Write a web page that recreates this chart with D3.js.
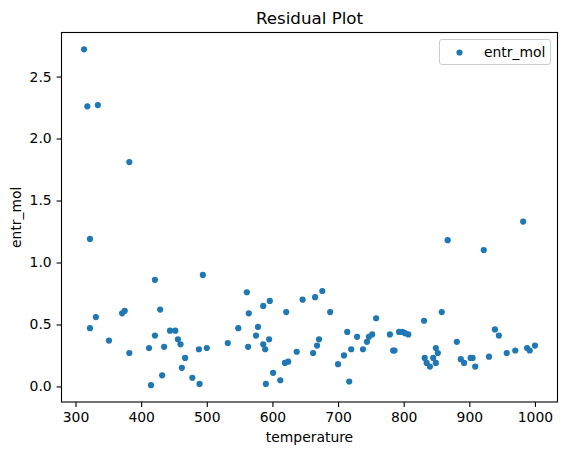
<!DOCTYPE html>
<html>
<head>
<meta charset="utf-8">
<script src="https://d3js.org/d3.v7.min.js"></script>
<style>
  body { margin: 0; background: #fff; }
  text { font-family: "DejaVu Sans", sans-serif; fill: #000; }
</style>
</head>
<body>
<script>
// residuals
var temperature = [
  313, 318, 334, 382,
  322, 421, 494, 561, 596, 646, 586, 621, 564, 375, 371, 429, 331, 322, 351, 382,
  412, 421, 435, 444, 452, 456, 460, 467, 462, 432, 415, 478, 489, 488, 500, 532,
  548, 563, 575, 578, 595, 586, 589, 590, 601, 612, 619, 624, 637,
  982, 867, 922, 665, 676, 688, 758, 858, 831, 714, 729, 744, 747, 752, 779, 793,
  798, 802, 807, 671, 668, 662, 709, 720, 738, 700, 717, 784, 786, 832, 835, 840,
  845, 849, 852, 849, 881, 887, 892, 902, 905, 909, 930, 939, 945, 957, 970, 988,
  992, 1000
];
var entr_mol = [
  2.72, 2.26, 2.27, 1.81,
  1.19, 0.86, 0.90, 0.76, 0.69, 0.70, 0.65, 0.60, 0.59, 0.61, 0.59, 0.62, 0.56, 0.47, 0.37, 0.27,
  0.31, 0.41, 0.32, 0.45, 0.45, 0.38, 0.34, 0.23, 0.15, 0.09, 0.01, 0.07, 0.02, 0.30, 0.31, 0.35,
  0.47, 0.32, 0.41, 0.48, 0.38, 0.34, 0.30, 0.02, 0.11, 0.05, 0.19, 0.20, 0.28,
  1.33, 1.18, 1.10, 0.72, 0.77, 0.60, 0.55, 0.60, 0.53, 0.44, 0.40, 0.36, 0.40, 0.42, 0.42, 0.44,
  0.44, 0.43, 0.42, 0.38, 0.33, 0.27, 0.25, 0.30, 0.30, 0.18, 0.04, 0.29, 0.29, 0.23, 0.19, 0.16,
  0.23, 0.31, 0.27, 0.19, 0.36, 0.22, 0.19, 0.23, 0.23, 0.16, 0.24, 0.46, 0.41, 0.27, 0.29, 0.31,
  0.29, 0.33
];
var xTicks = [300, 400, 500, 600, 700, 800, 900, 1000];
var yTicks = [0.0, 0.5, 1.0, 1.5, 2.0, 2.5];

var W = 567, H = 455;
var mLeft = 61.5, mRight = 557.5, mTop = 32.5, mBottom = 402;

var data = temperature.map(function(t, i) { return {t: t, v: entr_mol[i]}; });

// matplotlib style 5% padding
function padded(ext) {
  var p = (ext[1] - ext[0]) * 0.05;
  return [ext[0] - p, ext[1] + p];
}
var x = d3.scaleLinear().domain(padded(d3.extent(temperature))).range([mLeft, mRight]);
var y = d3.scaleLinear().domain(padded(d3.extent(entr_mol))).range([mBottom, mTop]);

var svg = d3.select("body").append("svg")
  .attr("width", W).attr("height", H);

svg.selectAll("circle.pt")
  .data(data)
  .enter().append("circle")
  .attr("class", "pt")
  .attr("cx", function(d) { return x(d.t); })
  .attr("cy", function(d) { return y(d.v); })
  .attr("r", 3.1)
  .attr("fill", "#1f77b4");

var xAxis = svg.append("g")
  .attr("transform", "translate(0," + mBottom + ")")
  .call(d3.axisBottom(x).tickValues(xTicks).tickSize(4.9).tickPadding(4.9).tickFormat(d3.format("d")));
var yAxis = svg.append("g")
  .attr("transform", "translate(" + mLeft + ",0)")
  .call(d3.axisLeft(y).tickValues(yTicks).tickSize(4.9).tickPadding(4.9).tickFormat(d3.format(".1f")));

[xAxis, yAxis].forEach(function(g) {
  g.select(".domain").remove();
  g.selectAll("line").attr("stroke", "#000").attr("stroke-width", 1.1);
  g.selectAll("text").style("font-size", "13.9px").attr("fill", "#000")
    .style("font-family", "DejaVu Sans, sans-serif");
});

// frame
svg.append("rect")
  .attr("x", mLeft).attr("y", mTop)
  .attr("width", mRight - mLeft).attr("height", mBottom - mTop)
  .attr("fill", "none").attr("stroke", "#000").attr("stroke-width", 1.1);

svg.append("text")
  .attr("x", (mLeft + mRight) / 2).attr("y", 24)
  .attr("text-anchor", "middle")
  .style("font-size", "16.7px")
  .text("Residual Plot");

svg.append("text")
  .attr("x", (mLeft + mRight) / 2).attr("y", 442)
  .attr("text-anchor", "middle")
  .style("font-size", "13.9px")
  .text("temperature");

svg.append("text")
  .attr("transform", "translate(21," + (mTop + mBottom) / 2 + ") rotate(-90)")
  .attr("text-anchor", "middle")
  .style("font-size", "13.9px")
  .text("entr_mol");

// legend
var lg = svg.append("g");
lg.append("rect")
  .attr("x", 439.5).attr("y", 39.5).attr("width", 111).attr("height", 25)
  .attr("rx", 2.5)
  .attr("fill", "#fff").attr("fill-opacity", 0.8)
  .attr("stroke", "#ccc").attr("stroke-width", 1);
lg.append("circle")
  .attr("cx", 459.5).attr("cy", 52.5).attr("r", 3.1).attr("fill", "#1f77b4");
lg.append("text")
  .attr("x", 484).attr("y", 57.3)
  .style("font-size", "13.9px")
  .text("entr_mol");
</script>
</body>
</html>
